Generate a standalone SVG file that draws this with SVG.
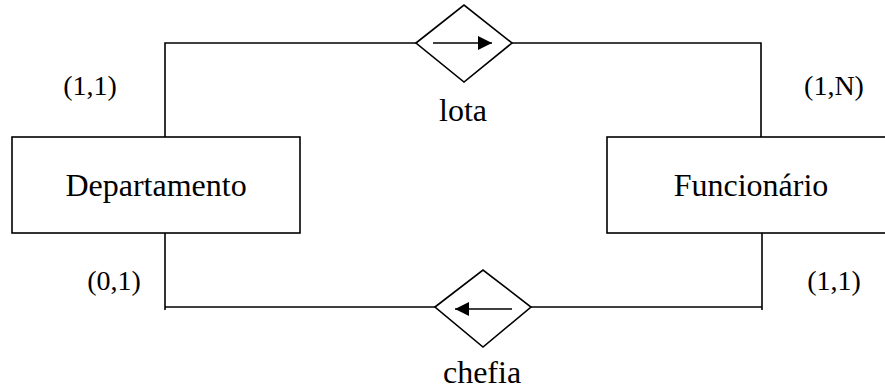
<svg xmlns="http://www.w3.org/2000/svg" width="885" height="390" viewBox="0 0 885 390">
<style>
.ln{stroke:#000;stroke-width:1.6;fill:none}
.sh{stroke:#000;stroke-width:1.6;fill:#fff}
text{font-family:'Liberation Serif','DejaVu Serif',serif;fill:#000;text-anchor:middle}
.big{font-size:32px}
.sm{font-size:28px}
</style>
<defs>
<marker id="ah" viewBox="0 0 10 10" refX="10" refY="5" markerWidth="15" markerHeight="14" markerUnits="userSpaceOnUse" orient="auto"><path d="M0,0 L10,5 L0,10 Z" fill="#000"/></marker>
</defs>
<g id="connectors">
<polyline class="ln" points="165,137 165,43 416,43"/>
<polyline class="ln" points="512,43 761,43 761,137"/>
<polyline class="ln" points="165,233 165,310"/>
<line class="ln" x1="165" y1="307" x2="435" y2="307"/>
<polyline class="ln" points="531,307 762,307"/>
<line class="ln" x1="762" y1="233" x2="762" y2="310"/>
</g>
<g id="departamento">
<rect class="sh" x="12" y="137" width="288" height="96"/>
<text class="big" font-family="Liberation Serif, serif" x="156" y="196">Departamento</text>
</g>
<g id="funcionario">
<rect class="sh" x="607" y="137" width="290" height="96"/>
<text class="big" font-family="Liberation Serif, serif" x="751" y="196">Funcionário</text>
</g>
<g id="lota">
<polygon class="sh" points="416,43 464,5 512,43 464,82"/>
<line class="ln" x1="433" y1="43" x2="492" y2="43" marker-end="url(#ah)"/>
<text class="big" font-family="Liberation Serif, serif" x="463" y="121">lota</text>
</g>
<g id="chefia">
<polygon class="sh" points="435,307 483,270 531,307 483,347"/>
<line class="ln" x1="512" y1="309" x2="455" y2="309" marker-end="url(#ah)"/>
<text class="big" font-family="Liberation Serif, serif" x="482" y="383">chefia</text>
</g>
<g id="cardinalities">
<text class="sm" font-family="Liberation Serif, serif" x="90" y="95">(1,1)</text>
<text class="sm" font-family="Liberation Serif, serif" x="834" y="95">(1,N)</text>
<text class="sm" font-family="Liberation Serif, serif" x="114" y="290">(0,1)</text>
<text class="sm" font-family="Liberation Serif, serif" x="834" y="290">(1,1)</text>
</g>
</svg>
